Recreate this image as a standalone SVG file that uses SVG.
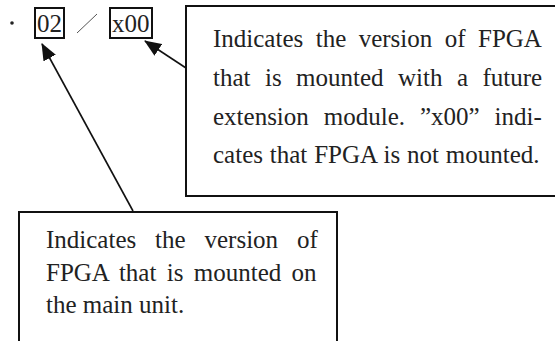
<svg xmlns="http://www.w3.org/2000/svg" width="555" height="341" viewBox="0 0 555 341">
<style>
.t{font-family:'Liberation Serif','Times New Roman',serif;font-size:25px;fill:#222}
.box{fill:#fff;stroke:#111;stroke-width:2}
.ln{stroke:#111;stroke-width:1.6;fill:none}
</style>
<defs>
<marker id="ah" viewBox="0 0 17 14" refX="16" refY="7" markerWidth="17" markerHeight="14" markerUnits="userSpaceOnUse" orient="auto">
<path d="M0,0 L17,7 L0,14 Z" fill="#111"/>
</marker>
</defs>
<rect width="555" height="341" fill="#fff"/>
<g id="label">
<circle cx="12" cy="23" r="1.8" fill="#222"/>
<rect class="box" x="35" y="8" width="29" height="30" fill="none"/>
<text class="t" x="37" y="32">02</text>
<line x1="77" y1="33" x2="97" y2="14" stroke="#555" stroke-width="1"/>
<rect class="box" x="110" y="8" width="42" height="30" fill="none"/>
<text class="t" x="112" y="32">x00</text>
</g>
<g id="note-future">
<rect class="box" x="186" y="6" width="380" height="190"/>
<text class="t" x="213" y="47" word-spacing="6.2">Indicates the version of FPGA</text>
<text class="t" x="213" y="85.5" word-spacing="8.2">that is mounted with a future</text>
<text class="t" x="213" y="124.5" word-spacing="8.7">extension module. ”x00” indi-</text>
<text class="t" x="213" y="163" word-spacing="0.6">cates that FPGA is not mounted.</text>
</g>
<g id="note-main">
<rect class="box" x="19" y="212" width="318" height="140"/>
<text class="t" x="46" y="248" word-spacing="12.6">Indicates the version of</text>
<text class="t" x="46" y="281" word-spacing="4.1">FPGA that is mounted on</text>
<text class="t" x="46" y="313">the main unit.</text>
</g>
<g id="connectors">
<line class="ln" x1="133" y1="211" x2="42" y2="44" marker-end="url(#ah)"/>
<line class="ln" x1="186" y1="68" x2="145" y2="41" marker-end="url(#ah)"/>
</g>
</svg>
